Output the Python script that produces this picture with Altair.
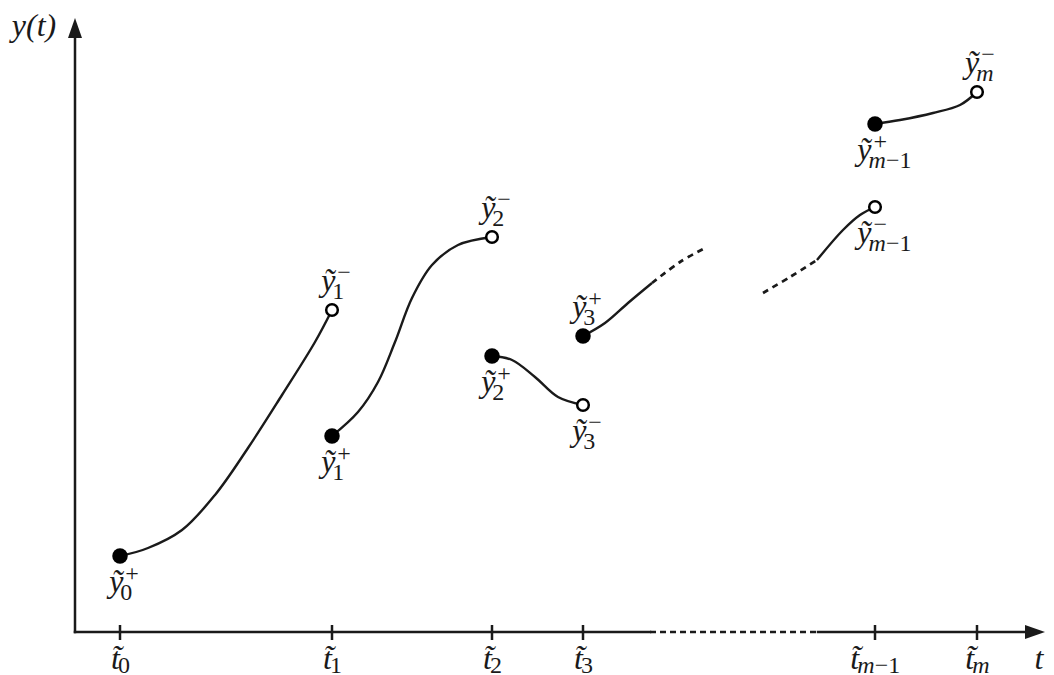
import altair as alt
import pandas as pd

# ---------------- data (t: horizontal, v: vertical) ----------------
seg1_t = [45, 73, 107, 140, 173, 207, 240, 257]
seg1_v = [76, 84, 102, 137, 184, 237, 290, 322]
seg2_t = [257, 283, 303, 320, 337, 357, 383, 417]
seg2_v = [196, 220, 250, 290, 334, 367, 387, 395]
seg3_t = [417, 437, 460, 483, 508]
seg3_v = [276, 272, 255, 235, 227]
seg4_t = [508, 530, 553, 577]
seg4_v = [296, 309, 329, 349]
seg5_t = [742, 768, 785, 800]
seg5_v = [372, 402, 417, 425]
seg6_t = [800, 825, 858, 885, 902]
seg6_v = [508, 512, 519, 527, 540]
dash1_t = [577, 605, 630]
dash1_v = [349, 370, 384]
dash2_t = [688, 715, 742]
dash2_v = [339, 355, 372]

knot_t = [45, 257, 257, 417, 417, 508, 508, 800, 800, 902]
knot_v = [76, 322, 196, 395, 276, 227, 296, 425, 508, 540]
knot_closed = [True, False, True, False, True, False, True, False, True, False]
knot_sub = ["0", "1", "1", "2", "2", "3", "3", "m−1", "m−1", "m"]
knot_sup = ["+", "−", "+", "−", "+", "−", "+", "−", "+", "−"]
knot_side = ["below", "above", "below", "above", "below", "below", "above", "below", "below", "above"]

tick_t = [45, 257, 417, 508, 800, 902]
tick_sub = ["0", "1", "2", "3", "m−1", "m"]

axis_gap = [575, 743]      # dotted stretch of the time axis
t_tip = 970                # arrow tip on the time axis
v_tip = 614                # arrow tip on the y axis

# ---------------- layout helpers ----------------
W, H = 1038, 667
XDOM = [-67, 971]
YDOM = [-43, 624]
xs = alt.Scale(domain=XDOM, nice=False, zero=False)
ys = alt.Scale(domain=YDOM, nice=False, zero=False)
INK = "#1a1a1a"
FONT = "Liberation Serif"
MAIN_FS = 32
SCRIPT_FS = 24
SUB_W = {"m": 17.5, "−": 14}
DIGIT_W = 12


def sub_width(s):
    return sum(SUB_W.get(c, DIGIT_W) for c in s)


def split_sub(s):
    return ("m", s[1:]) if s.startswith("m") else ("", s)


def X(f="t"):
    return alt.X(f"{f}:Q", scale=xs, axis=None)


def Y(f="v"):
    return alt.Y(f"{f}:Q", scale=ys, axis=None)


# ---------------- tables ----------------
solid_rows = []
for i, (ts, vs) in enumerate([(seg1_t, seg1_v), (seg2_t, seg2_v), (seg3_t, seg3_v),
                               (seg4_t, seg4_v), (seg5_t, seg5_v), (seg6_t, seg6_v)]):
    solid_rows += [{"t": a, "v": b, "seg": i} for a, b in zip(ts, vs)]
solid_df = pd.DataFrame(solid_rows)

dash_rows = []
for i, (ts, vs) in enumerate([(dash1_t, dash1_v), (dash2_t, dash2_v)]):
    dash_rows += [{"t": a, "v": b, "seg": i} for a, b in zip(ts, vs)]
dash_df = pd.DataFrame(dash_rows)

knots = pd.DataFrame({"t": knot_t, "v": knot_v, "closed": knot_closed})

ARW = 20  # arrowhead length
axis_solid = pd.DataFrame({
    "t": [0, 0, axis_gap[1]],
    "t2": [0, axis_gap[0], t_tip - ARW],
    "v": [0, 0, 0],
    "v2": [v_tip - ARW, 0, 0],
})
axis_dot = pd.DataFrame({"t": [axis_gap[0]], "t2": [axis_gap[1]], "v": [0], "v2": [0]})
arrow_up = pd.DataFrame({"t": [0], "v": [v_tip - ARW / 2]})
arrow_right = pd.DataFrame({"t": [t_tip - ARW / 2], "v": [0]})
ticks = pd.DataFrame({"t": tick_t})

# labels of the knots
main_rows, sup_rows, subit_rows, subup_rows = [], [], [], []
for t, v, sub, sup, side in zip(knot_t, knot_v, knot_sub, knot_sup, knot_side):
    mx = t + 6 - 0.22 * sub_width(sub)
    my = v - 36 if side == "below" else v + 19
    main_rows.append({"t": mx, "v": my, "txt": "ỹ"})
    sup_rows.append({"t": mx + 2, "v": my + 11, "txt": sup})
    it, up = split_sub(sub)
    subit_rows.append({"t": mx - 3, "v": my - 8, "txt": it})
    subup_rows.append({"t": mx - 3 + (SUB_W["m"] if it else 0), "v": my - 8, "txt": up})

# tick labels
for t, sub in zip(tick_t, tick_sub):
    mx = t + 6 - sub_width(sub) / 2
    main_rows.append({"t": mx, "v": -37, "txt": "t̃"})
    it, up = split_sub(sub)
    subit_rows.append({"t": mx - 2, "v": -41, "txt": it})
    subup_rows.append({"t": mx - 2 + (SUB_W["m"] if it else 0), "v": -41, "txt": up})

main_df = pd.DataFrame(main_rows)
sup_df = pd.DataFrame(sup_rows)
subit_df = pd.DataFrame([r for r in subit_rows if r["txt"]])
subup_df = pd.DataFrame(subup_rows)
axis_titles = pd.DataFrame({"t": [-41, 964], "v": [596, -37], "txt": ["y(t)", "t"]})

# ---------------- layers ----------------
axes = alt.Chart(axis_solid).mark_rule(color=INK, strokeWidth=2.5, strokeCap="square").encode(
    x=X(), x2="t2:Q", y=Y(), y2="v2:Q")
axes_dot = alt.Chart(axis_dot).mark_rule(color=INK, strokeWidth=2.5, strokeDash=[6, 4]).encode(
    x=X(), x2="t2:Q", y=Y(), y2="v2:Q")
tick_marks = alt.Chart(ticks).mark_rule(color=INK, strokeWidth=2.5).encode(
    x=X(), y=alt.Y(datum=-8, scale=ys, axis=None), y2=alt.Y2(datum=7))
head_up = alt.Chart(arrow_up).mark_point(
    shape="M0,-1L0.7,1L-0.7,1Z", filled=True, size=ARW * ARW, color=INK, opacity=1).encode(x=X(), y=Y())
head_right = alt.Chart(arrow_right).mark_point(
    shape="M1,0L-1,-0.7L-1,0.7Z", filled=True, size=ARW * ARW, color=INK, opacity=1).encode(x=X(), y=Y())

curves = alt.Chart(solid_df).mark_line(
    color=INK, strokeWidth=2.4, interpolate="catmull-rom", strokeCap="butt").encode(
    x=X(), y=Y(), detail="seg:N")
dashed = alt.Chart(dash_df).mark_line(
    color=INK, strokeWidth=2.7, interpolate="catmull-rom", strokeDash=[6, 5]).encode(
    x=X(), y=Y(), detail="seg:N")

closed_pts = alt.Chart(knots).transform_filter("datum.closed").mark_circle(
    color="#000000", size=240, opacity=1).encode(x=X(), y=Y())
open_pts = alt.Chart(knots).transform_filter("!datum.closed").mark_circle(
    fill="#ffffff", stroke="#000000", strokeWidth=2.5, size=135, opacity=1).encode(x=X(), y=Y())

txt_main = alt.Chart(main_df).mark_text(
    font=FONT, fontSize=MAIN_FS, fontStyle="italic", align="right", baseline="alphabetic", color=INK).encode(
    x=X(), y=Y(), text="txt:N")
txt_sup = alt.Chart(sup_df).mark_text(
    font=FONT, fontSize=SCRIPT_FS, align="left", baseline="alphabetic", color=INK).encode(
    x=X(), y=Y(), text="txt:N")
txt_subit = alt.Chart(subit_df).mark_text(
    font=FONT, fontSize=SCRIPT_FS, fontStyle="italic", align="left", baseline="alphabetic", color=INK).encode(
    x=X(), y=Y(), text="txt:N")
txt_subup = alt.Chart(subup_df).mark_text(
    font=FONT, fontSize=SCRIPT_FS, align="left", baseline="alphabetic", color=INK).encode(
    x=X(), y=Y(), text="txt:N")
txt_titles = alt.Chart(axis_titles).mark_text(
    font=FONT, fontSize=MAIN_FS, fontStyle="italic", align="center", baseline="alphabetic", color=INK).encode(
    x=X(), y=Y(), text="txt:N")

chart = alt.layer(
    axes, axes_dot, tick_marks, head_up, head_right,
    curves, dashed, closed_pts, open_pts,
    txt_main, txt_sup, txt_subit, txt_subup, txt_titles,
).properties(
    width=W, height=H, autosize=alt.AutoSizeParams(type="none"), padding=0, background="white"
).configure_view(stroke=None)

chart.save("out.html", embed_options={"renderer": "svg", "actions": False})
